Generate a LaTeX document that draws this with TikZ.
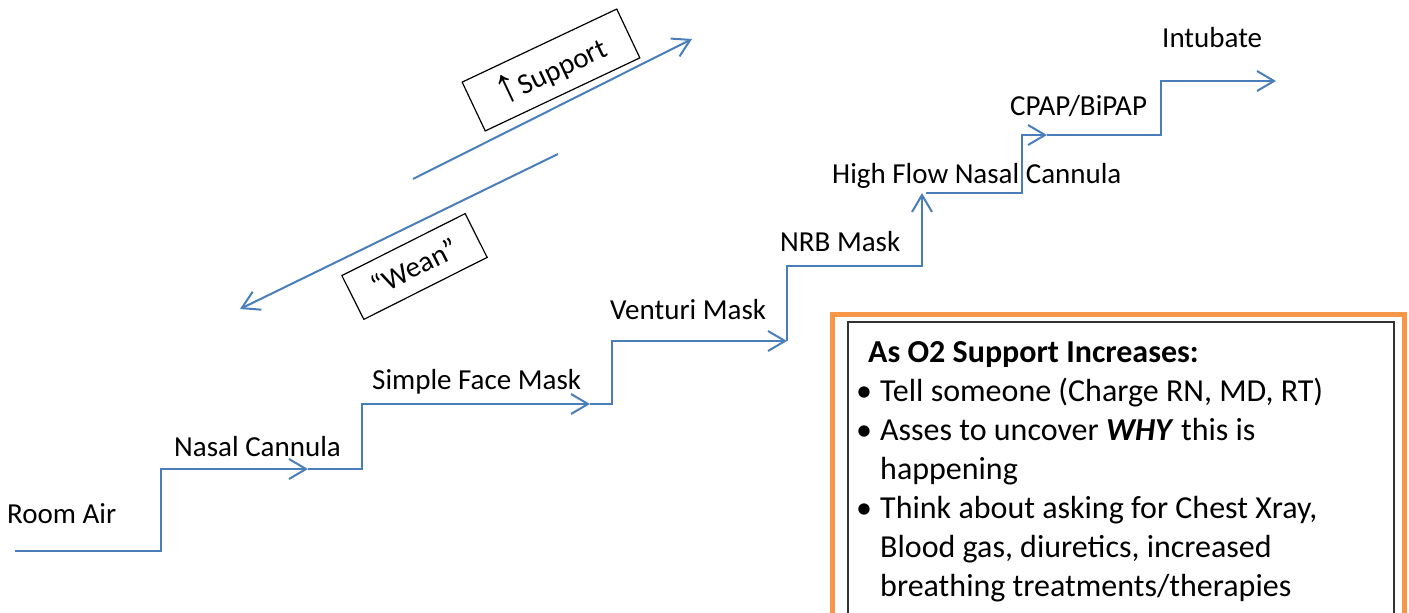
\documentclass[tikz,border=0pt]{standalone}
\usepackage{fontspec}
\setmainfont{Carlito}
\newfontfamily\arrowfont{Liberation Sans}
\usetikzlibrary{arrows.meta}
\definecolor{stepblue}{RGB}{74,126,187}
\definecolor{boxorange}{RGB}{247,150,70}
\begin{document}
\begin{tikzpicture}[x=1pt,y=-1pt,
  conn/.style={draw=stepblue, line width=2pt, -{Straight Barb[length=17pt,width=20pt]}},
  lab/.style={anchor=base west, inner sep=0pt, font=\fontsize{29}{35}\selectfont},
  tag/.style={draw=black, line width=1.2pt, inner sep=0pt, font=\fontsize{29}{35}\selectfont},
  outerbox/.style={draw=boxorange, line width=5pt, anchor=north west, inner sep=0pt},
  innerbox/.style={draw=black!80, line width=1.5pt, anchor=north west, inner sep=0pt}]
\useasboundingbox (0,0) rectangle (1409,613);
\clip (0,0) rectangle (1409,613);

% staircase points
\coordinate (s0) at (15,551);
\coordinate (s1) at (308,469);
\coordinate (s2) at (590,404);
\coordinate (s3) at (787,341);
\coordinate (s4) at (922,193);
\coordinate (s4b) at (926,193);
\coordinate (s5) at (1047,135);
\coordinate (s6) at (1276,81);

\draw[conn] (s0) -- (161,551) |- (s1);
\draw[conn] (s1) -- (362,469) |- (s2);
\draw[conn] (s2) -- (612,404) |- (s3);
\draw[conn] (s3) |- (922,266) -- (s4);
\draw[conn] (s4b) -- (1022,193) |- (s5);
\draw[conn] (s5) -- (1161,135) |- (s6);

% labels
\node[lab] (ra) at (7,523) {Room Air};
\node[lab] (nc) at (174,456) {Nasal Cannula};
\node[lab] (sfm) at (372,389) {Simple Face Mask};
\node[lab] (vm) at (610,319) {Venturi Mask};
\node[lab] (nrb) at (780,251) {NRB Mask};
\node[lab] (hf) at (832,183) {High Flow Nasal Cannula};
\node[lab] (cp) at (1010,115) {CPAP/BiPAP};
\node[lab] (int) at (1162,47) {Intubate};

% diagonal arrows
\coordinate (u0) at (413,179);
\coordinate (u1) at (692,39);
\coordinate (w0) at (558,154);
\coordinate (w1) at (240,309);
\draw[conn] (u0) -- (u1);
\draw[conn] (w0) -- (w1);

% rotated tags
\node[tag, rotate=25.3, minimum width=171pt, minimum height=54pt] (sup) at (551,70) {{\arrowfont\scalebox{1.6}[1.7]{↑}}Support};
\node[tag, rotate=26.7, minimum width=138pt, minimum height=49pt] (wean) at (414.5,266.5) {“Wean”};

% info box
\node[outerbox, minimum width=572pt, minimum height=400pt] (outer) at (830,312) {};
\node[innerbox, minimum width=546pt, minimum height=400pt] (inner) at (847,321) {};
\node[anchor=base west, inner sep=0pt, font=\fontsize{32}{39}\selectfont] (info) at (856,362)
{\begin{tabular}[t]{@{}p{24pt}@{}l@{}}
\multicolumn{2}{@{}l@{}}{\hspace{12pt}\textbf{As O2 Support Increases:}}\\
\textbullet & Tell someone (Charge RN, MD, RT)\\
\textbullet & Asses to uncover \textbf{\textit{WHY}} this is\\
 & happening\\
\textbullet & Think about asking for Chest Xray,\\
 & Blood gas, diuretics, increased\\
 & breathing treatments/therapies
\end{tabular}};
\end{tikzpicture}
\end{document}
